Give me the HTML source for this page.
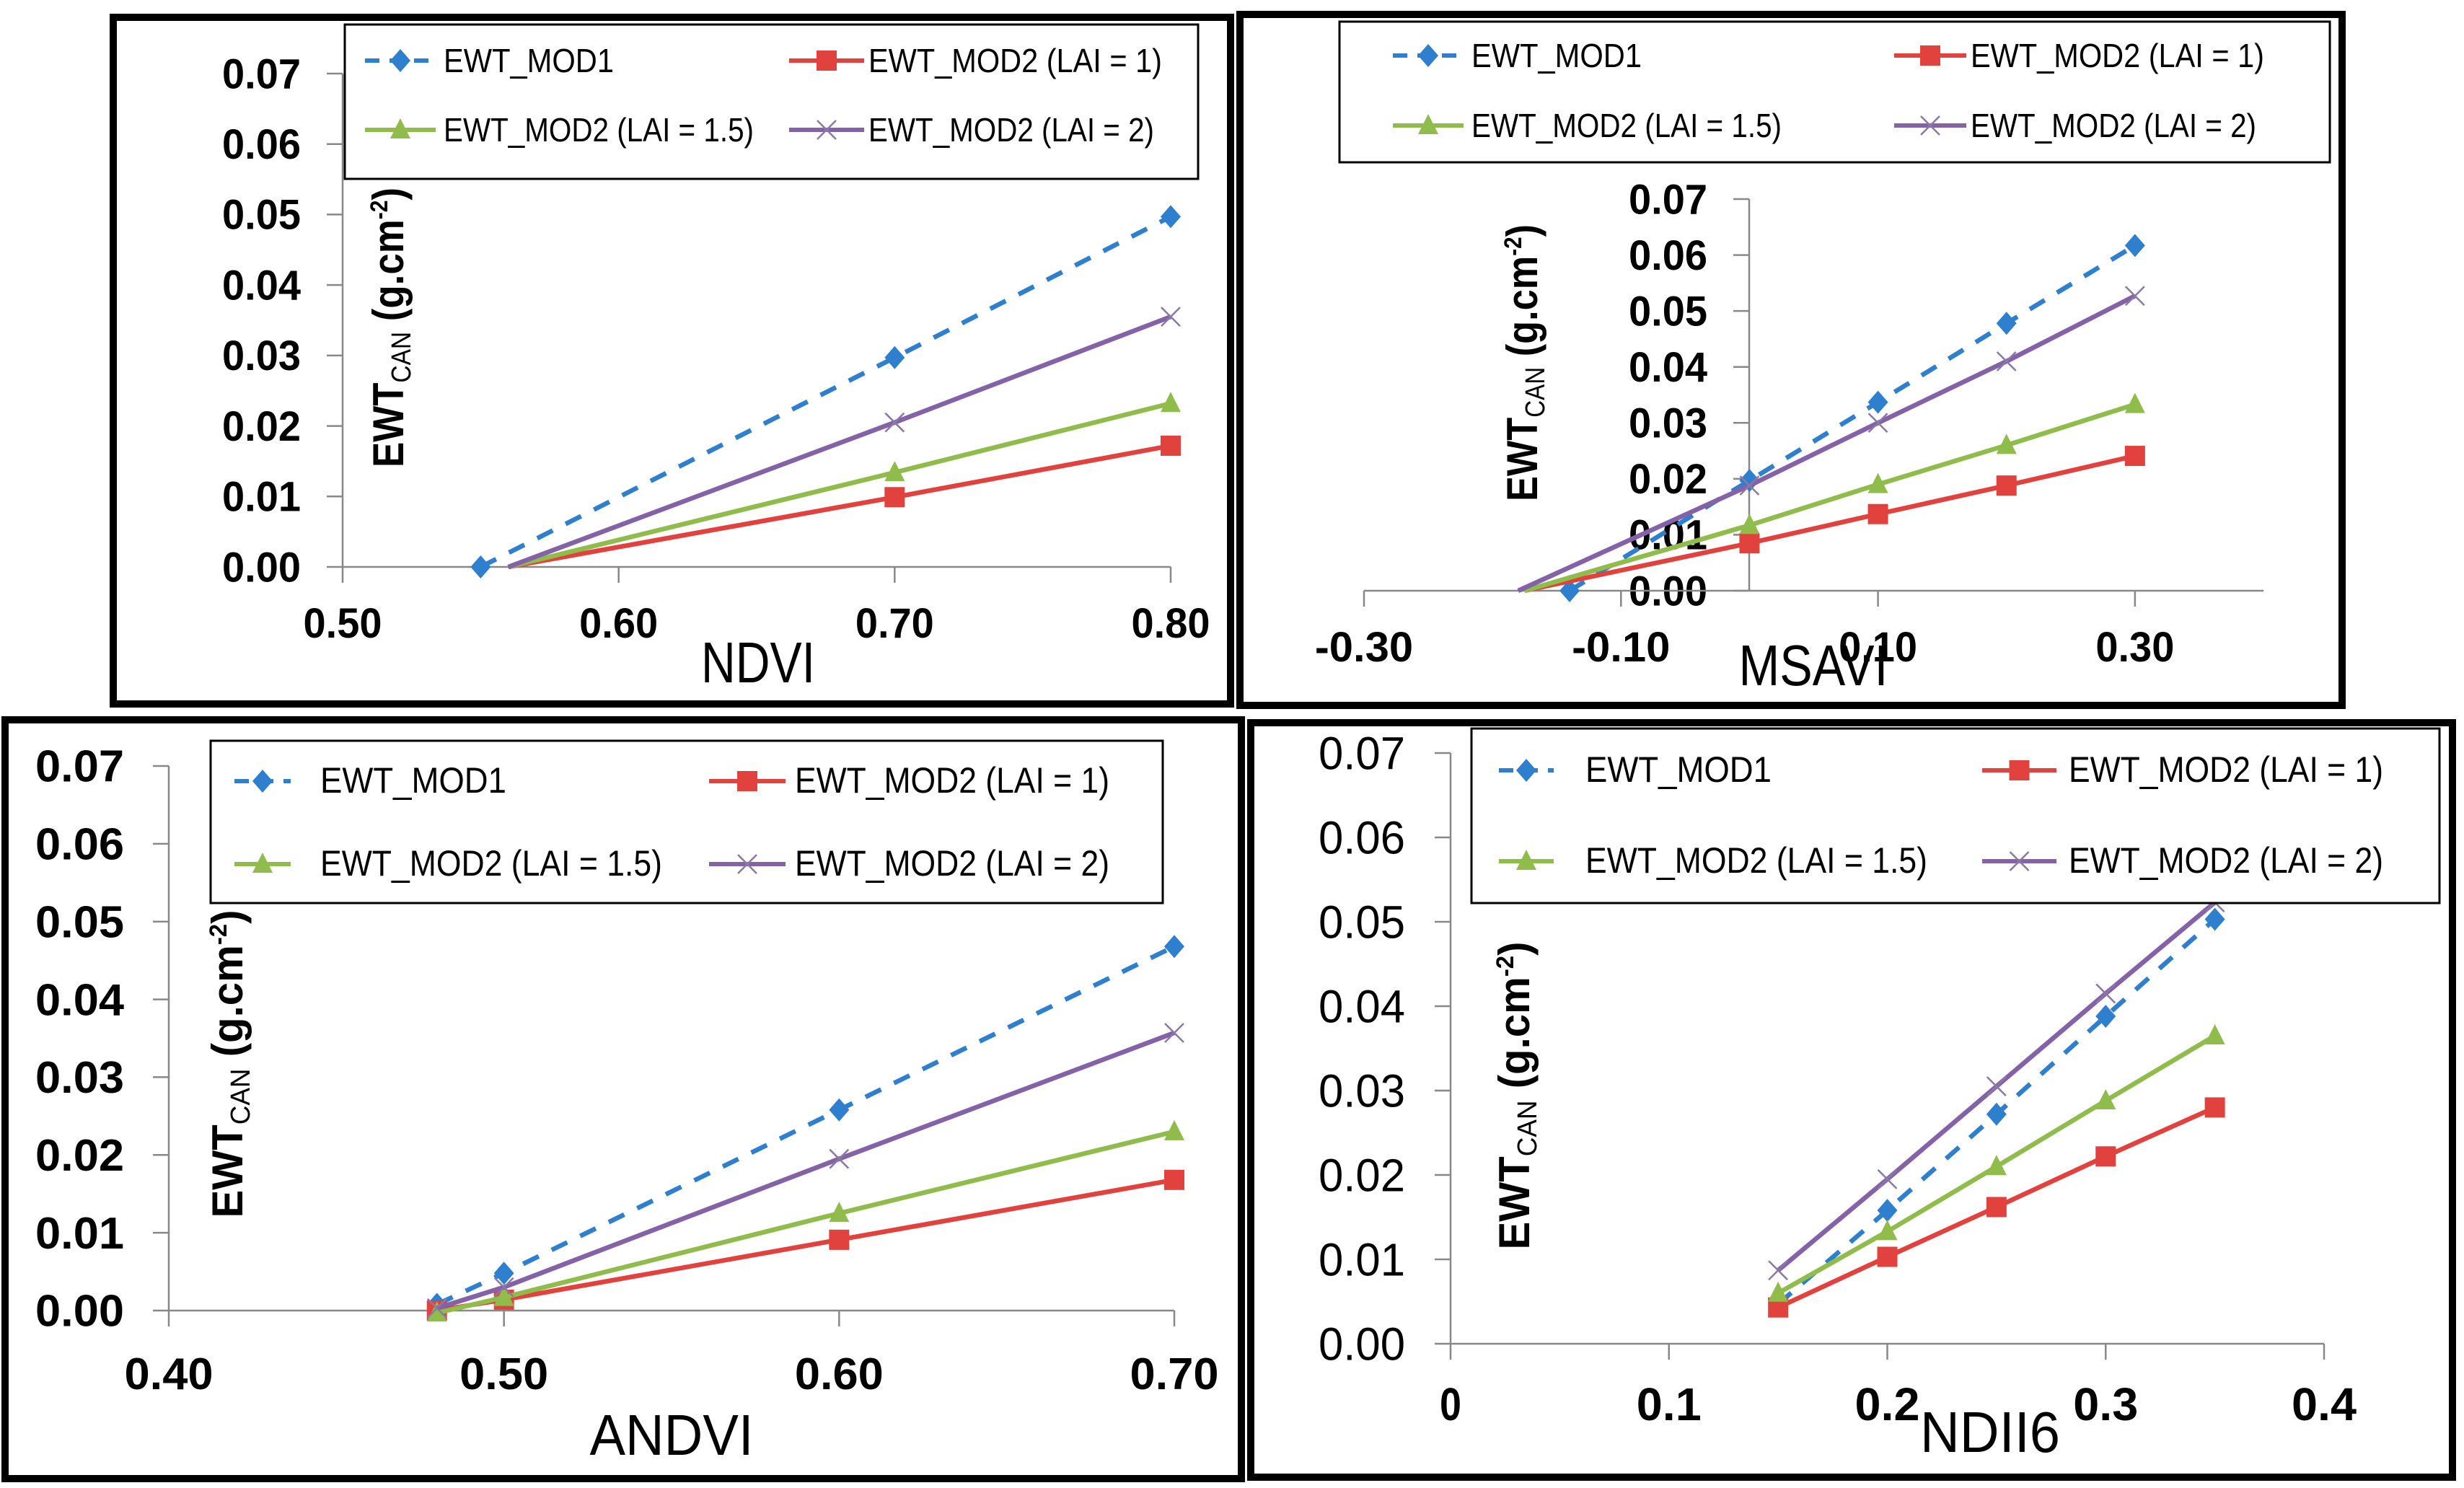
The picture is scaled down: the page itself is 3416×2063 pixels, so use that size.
<!DOCTYPE html>
<html><head><meta charset="utf-8"><style>
html,body{margin:0;padding:0;background:#fff;}
svg{display:block;}
text{font-family:"Liberation Sans Narrow","Liberation Sans",sans-serif;}
</style></head><body>
<svg id="fig" xmlns="http://www.w3.org/2000/svg" width="3416" height="2063" viewBox="0 0 3416 2063"></svg>
<script>
// ---------- data ----------
const seriesNames = ["EWT_MOD1","EWT_MOD2 (LAI = 1)","EWT_MOD2 (LAI = 1.5)","EWT_MOD2 (LAI = 2)"];
// Panel 1: NDVI
const ndviX = [0.55, 0.70, 0.80];
const ndviXm2 = [0.56, 0.70, 0.80];
const ndviMod1 = [0.0, 0.0297, 0.0497];
const ndviLai1 = [0.0, 0.0099, 0.0172];
const ndviLai15 = [0.0, 0.0134, 0.0232];
const ndviLai2 = [0.0, 0.0205, 0.0355];
const ndviXTicks = ["0.50","0.60","0.70","0.80"];
// Panel 2: MSAVI
const msaviXm1 = [-0.14, 0.0, 0.10, 0.20, 0.30];
const msaviXm2 = [-0.175, 0.0, 0.10, 0.20, 0.30];
const msaviXm3 = [-0.18, 0.0, 0.10, 0.20, 0.30];
const msaviMod1 = [0.0, 0.0197, 0.0337, 0.0478, 0.0617];
const msaviLai1 = [0.0, 0.0085, 0.0137, 0.0188, 0.0241];
const msaviLai15 = [0.0, 0.0117, 0.0190, 0.0260, 0.0333];
const msaviLai2 = [0.0, 0.0188, 0.0300, 0.0410, 0.0527];
const msaviXTicks = ["-0.30","-0.10","0.10","0.30"];
// Panel 3: ANDVI
const andviX = [0.48, 0.50, 0.60, 0.70];
const andviMod1 = [0.0008, 0.0048, 0.0258, 0.0468];
const andviLai1 = [0.0, 0.0014, 0.0091, 0.0168];
const andviLai15 = [-0.0003, 0.0017, 0.0125, 0.0230];
const andviLai2 = [0.0003, 0.0030, 0.0195, 0.0357];
const andviXTicks = ["0.40","0.50","0.60","0.70"];
// Panel 4: NDII6
const ndiiX = [0.15, 0.20, 0.25, 0.30, 0.35];
const ndiiMod1 = [0.0047, 0.0158, 0.0272, 0.0388, 0.0503];
const ndiiLai1 = [0.0043, 0.0103, 0.0162, 0.0222, 0.0280];
const ndiiLai15 = [0.0060, 0.0133, 0.0210, 0.0288, 0.0365];
const ndiiLai2 = [0.0087, 0.0195, 0.0305, 0.0415, 0.0523];
const ndiiXTicks = ["0","0.1","0.2","0.3","0.4"];
const yTicks = ["0.00","0.01","0.02","0.03","0.04","0.05","0.06","0.07"];
const yTicksP4 = ["0.00","0.01","0.02","0.03","0.04","0.05","0.06","0.07"];

// ---------- layout ----------
const NS="http://www.w3.org/2000/svg";
const svg=document.getElementById('fig');
const colors=["#2f7fcf","#e2423e","#8fbc4a","#8462a8"];
function mk(tag,attrs,parent){const e=document.createElementNS(NS,tag);for(const k in attrs)e.setAttribute(k,attrs[k]);(parent||svg).appendChild(e);return e;}

const legSmall=[236,407,430,396], legBig=[258,436,474,436];
const panels=[
 {id:"ndvi",title:"NDVI",frame:[157,24,1549,952],ax:475,x0:0.5,x1:0.8,px0:475,px1:1623,py0:786,py1:102,
  xt:ndviXTicks,xtv:[0.5,0.6,0.7,0.8],ylx:417,xlb:884,tx:1051,tb:946,tw:158,yt:yTicks,tickW:109,tickF:58,weight:"bold",
  yc:[539,454],yl:388,leg:[478,34,1183,214],rows:[100,196],c1:[506,604,615],c2:[1094,1198,1204],lw:legSmall,lf:46,
  xs:[ndviX,ndviXm2,ndviXm2,ndviXm2],ys:[ndviMod1,ndviLai1,ndviLai15,ndviLai2],mk0:[true,false,false,false]},
 {id:"msavi",title:"MSAVI",frame:[1719,20,1528,958],ax:2425,x0:-0.3,x1:0.4,px0:1891,px1:3138,py0:819,py1:276,
  xt:msaviXTicks,xtv:[-0.3,-0.1,0.1,0.3],ylx:2367,xlb:917,tx:2514,tb:950,tw:207,yt:yTicks,tickW:109,tickF:58,weight:"bold",
  yc:[2111,503],yl:384,leg:[1857,30,1373,195],rows:[93,190],c1:[1931,2029,2040],c2:[2626,2726,2732],lw:legSmall,lf:46,
  xs:[msaviXm1,msaviXm2,msaviXm2,msaviXm3],ys:[msaviMod1,msaviLai1,msaviLai15,msaviLai2],mk0:[true,false,false,false]},
 {id:"andvi",title:"ANDVI",frame:[7,998,1714,1052],ax:234,x0:0.4,x1:0.7,px0:234,px1:1628,py0:1817,py1:1062,
  xt:andviXTicks,xtv:[0.4,0.5,0.6,0.7],ylx:172,xlb:1926,tx:931,tb:2017,tw:227,yt:yTicks,tickW:123,tickF:62,weight:"bold",
  yc:[316,1475],yl:427,leg:[292,1027,1320,225],rows:[1099,1214],c1:[325,403,444],c2:[983,1089,1102],lw:legBig,lf:50,
  xs:[andviX,andviX,andviX,andviX],ys:[andviMod1,andviLai1,andviLai15,andviLai2],mk0:[true,true,true,true]},
 {id:"ndii6",title:"NDII6",frame:[1734,1002,1666,1046],ax:2011,x0:0,x1:0.4,px0:2011,px1:3222,py0:1863,py1:1044,
  xt:ndiiXTicks,xtv:[0,0.1,0.2,0.3,0.4],ylx:1948,xlb:1969,tx:2759,tb:2013,tw:194,yt:yTicksP4,tickW:120,tickF:64,weight:"normal",
  yc:[2100,1519],yl:427,leg:[2040,1010,1342,242],rows:[1084,1210],c1:[2078,2154,2198],c2:[2748,2851,2868],lw:legBig,lf:50,
  xs:[ndiiX,ndiiX,ndiiX,ndiiX],ys:[ndiiMod1,ndiiLai1,ndiiLai15,ndiiLai2],mk0:[true,true,true,true]}
];

function marker(g,type,x,y,name){
  let e;
  if(type===0){e=mk('polygon',{points:`${x},${y-16} ${x+14},${y} ${x},${y+16} ${x-14},${y}`,fill:colors[0]},g);}
  else if(type===1){e=mk('rect',{x:x-14,y:y-14,width:28,height:28,fill:colors[1]},g);}
  else if(type===2){e=mk('polygon',{points:`${x},${y-16} ${x+14},${y+12} ${x-14},${y+12}`,fill:colors[2]},g);}
  else {e=mk('path',{d:`M${x-13},${y-13}L${x+13},${y+13}M${x-13},${y+13}L${x+13},${y-13}`,stroke:"#8a78a6","stroke-width":2.5,fill:"none"},g);}
  
  
}

panels.forEach(p=>{
  const g=mk('g',{});
  
  
  const X=v=>p.px0+(v-p.x0)/(p.x1-p.x0)*(p.px1-p.px0);
  const Y=v=>p.py0+(v-0)/(0.07)*(p.py1-p.py0);
  const ya=mk('line',{x1:p.ax,y1:Y(0.07),x2:p.ax,y2:p.py0,stroke:"#888","stroke-width":2.5},g);
  
  p.yt.forEach((t,i)=>{
    const v=i*0.01,yy=Y(v);
    mk('line',{x1:p.ax-22,y1:yy,x2:p.ax,y2:yy,stroke:"#888","stroke-width":2.5},g);
    const tx=mk('text',{x:p.ylx,y:yy+p.tickF*0.35,"text-anchor":"end","font-size":p.tickF,"font-weight":p.weight,textLength:p.tickW,lengthAdjust:"spacingAndGlyphs"},g);
    tx.textContent=t;
    
  });
  const xa=mk('line',{x1:p.px0,y1:p.py0,x2:p.px1,y2:p.py0,stroke:"#888","stroke-width":2.5},g);
  
  p.xt.forEach((t,i)=>{
    const xx=X(p.xtv[i]);
    mk('line',{x1:xx,y1:p.py0,x2:xx,y2:p.py0+22,stroke:"#888","stroke-width":2.5},g);
    const w=p.tickW*(t.length/4);
    const tx=mk('text',{x:xx,y:p.xlb,"text-anchor":"middle","font-size":p.tickF,"font-weight":"bold",textLength:w,lengthAdjust:"spacingAndGlyphs"},g);
    tx.textContent=t;
    
  });
  p.ys.forEach((ys,si)=>{
    const xs=p.xs[si];
    const pts=ys.map((v,i)=>X(xs[i])+","+Y(v)).join(" ");
    const attrs={points:pts,fill:"none",stroke:colors[si],"stroke-width":6.5,"stroke-linejoin":"round"};
    if(si===0){attrs["stroke-dasharray"]="24,20";}
    const pl=mk('polyline',attrs,g);
    
    
    ys.forEach((v,i)=>{ if(i===0 && !p.mk0[si]) return; marker(g,si,X(xs[i]),Y(v),'point-s'+(si+1)); });
  });
  const lg=mk('g',{},g);
  
  mk('rect',{x:p.leg[0],y:p.leg[1],width:p.leg[2],height:p.leg[3],fill:"#fff",stroke:"#000","stroke-width":3},lg);
  seriesNames.forEach((n,si)=>{
    const c=si%2===0?p.c1:p.c2, ry=p.rows[si<2?0:1];
    const ea=mk('g',{},lg);
    
    const la={x1:c[0],y1:ry-16,x2:c[1],y2:ry-16,stroke:colors[si],"stroke-width":6};
    if(si===0) la["stroke-dasharray"]="20,14";
    mk('line',la,ea);
    marker(ea,si,(c[0]+c[1])/2,ry-16,'legend-marker');
    const t=mk('text',{x:c[2],y:ry,"font-size":p.lf,textLength:p.lw[si],lengthAdjust:"spacingAndGlyphs"},ea);
    t.textContent=n;
  });
  const tt=mk('text',{x:p.tx,y:p.tb,"text-anchor":"middle","font-size":80,textLength:p.tw,lengthAdjust:"spacingAndGlyphs"},g);
  tt.textContent=p.title;
  
  const yt=mk('text',{x:0,y:0,"text-anchor":"middle","font-size":60,"font-weight":"bold",textLength:p.yl,lengthAdjust:"spacingAndGlyphs",transform:`translate(${p.yc[0]+20},${p.yc[1]}) rotate(-90)`},g);
  
  yt.style.fontFamily='"Liberation Sans",sans-serif';
  yt.innerHTML='EWT<tspan font-size="38" font-weight="normal" dy="10">CAN</tspan><tspan dy="-10"> (g.cm</tspan><tspan font-size="34" dy="-22">-2</tspan><tspan dy="22">)</tspan>';
  const f=mk('rect',{x:p.frame[0],y:p.frame[1],width:p.frame[2],height:p.frame[3],fill:"none",stroke:"#000","stroke-width":10},g);
  
});
</script>
</body></html>
